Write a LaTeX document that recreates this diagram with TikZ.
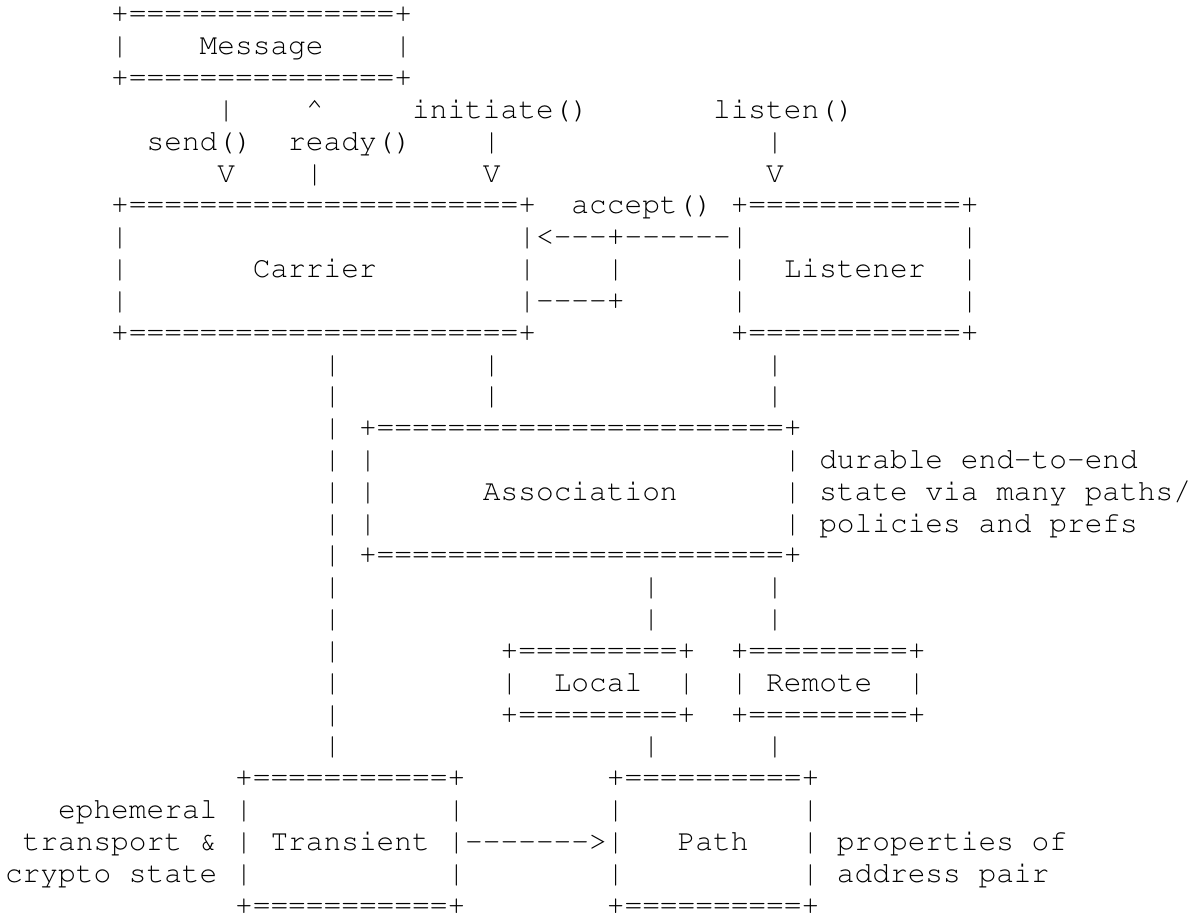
\documentclass[tikz,border=0pt]{standalone}
\usepackage[T1,TU]{fontenc}
\usepackage{tikz}
\newcommand{\asciifont}{\fontencoding{T1}\fontfamily{pcr}\fontseries{m}\fontshape{n}\fontsize{14.75pt}{16pt}\selectfont}

\begin{document}
\begin{tikzpicture}[x=8.85pt, y=-15.91pt, ascii/.style={anchor=base west, inner sep=0pt, outer sep=0pt, font=\asciifont}]
\useasboundingbox (-0.2825,0.2772) rectangle (67,29.19);

\node[ascii] (messagetop) at (6,1) {+===============+};
\node[ascii] (messageleft) at (6,2) {|};
\node[ascii] (message) at (11,2) {Message};
\node[ascii] (messageright) at (22,2) {|};
\node[ascii] (messagebottom) at (6,3) {+===============+};

\node[ascii] (sendlink) at (12,4) {|};
\node[ascii] (readytip) at (17,4) {\textasciicircum};
\node[ascii] (initiate) at (23,4) {initiate()};
\node[ascii] (listen) at (40,4) {listen()};
\node[ascii] (send) at (8,5) {send()};
\node[ascii] (ready) at (16,5) {ready()};
\node[ascii] (initiatelink) at (27,5) {|};
\node[ascii] (listenlink) at (43,5) {|};
\node[ascii] (sendtip) at (12,6) {V};
\node[ascii] (readylink) at (17,6) {|};
\node[ascii] (initiatetip) at (27,6) {V};
\node[ascii] (listentip) at (43,6) {V};

\node[ascii] (carriertop) at (6,7) {+======================+};
\node[ascii] (accept) at (32,7) {accept()};
\node[ascii] (listenertop) at (41,7) {+============+};
\node[ascii] (acceptin) at (29,8) {|<-{}-{}-+-{}-{}-{}-{}-{}-|};
\node[ascii] (acceptmid) at (34,9) {|};
\node[ascii] (acceptout) at (29,10) {|-{}-{}-{}-+};
\node[ascii] (carrier) at (14,9) {Carrier};
\node[ascii] (carrierright) at (29,9) {|};
\node[ascii] (listener) at (44,9) {Listener};
\node[ascii] (listenerleft) at (41,9) {|};
\node[ascii] (listenerleftlow) at (41,10) {|};
\foreach \r in {8,9,10} {
  \node[ascii] (carrierleft-\r) at (6,\r) {|};
  \node[ascii] (listenerright-\r) at (54,\r) {|};
}
\node[ascii] (carrierbottom) at (6,11) {+======================+};
\node[ascii] (listenerbottom) at (41,11) {+============+};

\foreach \r in {12,...,24}
  \node[ascii] (transientlink-\r) at (18,\r) {|};
\foreach \r in {12,13} {
  \node[ascii] (carrierlink-\r) at (27,\r) {|};
  \node[ascii] (listenerlink-\r) at (43,\r) {|};
}

\node[ascii] (associationtop) at (20,14) {+=======================+};
\foreach \r in {15,16,17} {
  \node[ascii] (associationleft-\r) at (20,\r) {|};
  \node[ascii] (associationright-\r) at (44,\r) {|};
}
\node[ascii] (association) at (27,16) {Association};
\node[ascii] (durable) at (46,15) {durable end-to-end};
\node[ascii] (state) at (46,16) {state via many paths/};
\node[ascii] (policies) at (46,17) {policies and prefs};
\node[ascii] (associationbottom) at (20,18) {+=======================+};

\foreach \r in {19,20,24} {
  \node[ascii] (locallink-\r) at (36,\r) {|};
  \node[ascii] (remotelink-\r) at (43,\r) {|};
}
\node[ascii] (localtop) at (28,21) {+=========+};
\node[ascii] (remotetop) at (41,21) {+=========+};
\node[ascii] (localleft) at (28,22) {|};
\node[ascii] (local) at (31,22) {Local};
\node[ascii] (localright) at (38,22) {|};
\node[ascii] (remoteleft) at (41,22) {|};
\node[ascii] (remote) at (43,22) {Remote};
\node[ascii] (remoteright) at (51,22) {|};
\node[ascii] (localbottom) at (28,23) {+=========+};
\node[ascii] (remotebottom) at (41,23) {+=========+};

\node[ascii] (transienttop) at (13,25) {+===========+};
\node[ascii] (pathtop) at (34,25) {+==========+};
\foreach \r in {26,28} {
  \node[ascii] (transientleft-\r) at (13,\r) {|};
  \node[ascii] (transientright-\r) at (25,\r) {|};
  \node[ascii] (pathleft-\r) at (34,\r) {|};
  \node[ascii] (pathright-\r) at (45,\r) {|};
}
\node[ascii] (transientleft) at (13,27) {|};
\node[ascii] (transient) at (15,27) {Transient};
\node[ascii] (transientpath) at (25,27) {|-{}-{}-{}-{}-{}-{}->|};
\node[ascii] (path) at (38,27) {Path};
\node[ascii] (pathright) at (45,27) {|};
\node[ascii] (ephemeral) at (3,26) {ephemeral};
\node[ascii] (transport) at (1,27) {transport \&};
\node[ascii] (crypto) at (0,28) {crypto state};
\node[ascii] (properties) at (47,27) {properties of};
\node[ascii] (address) at (47,28) {address pair};
\node[ascii] (transientbottom) at (13,29) {+===========+};
\node[ascii] (pathbottom) at (34,29) {+==========+};
\end{tikzpicture}
\end{document}
